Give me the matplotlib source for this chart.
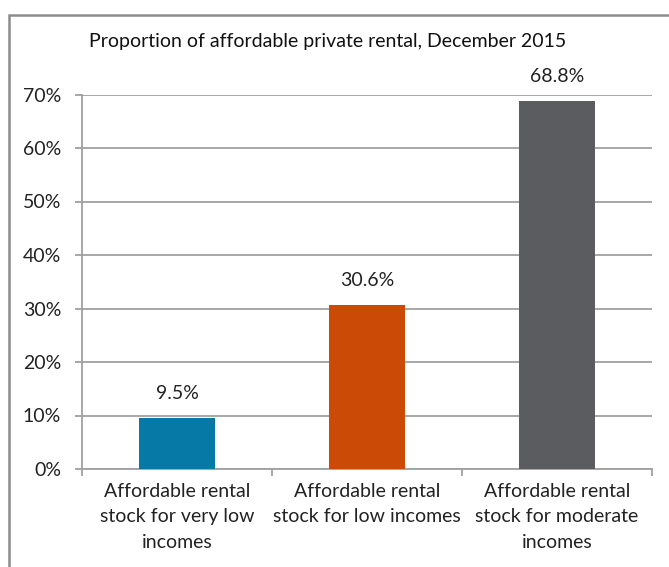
import matplotlib
matplotlib.use("Agg")
import matplotlib.pyplot as plt
from matplotlib.patches import Rectangle

categories = ["Affordable rental\nstock for very low\nincomes",
              "Affordable rental\nstock for low incomes",
              "Affordable rental\nstock for moderate\nincomes"]
values = [0.095, 0.306, 0.688]
value_labels = ["9.5%", "30.6%", "68.8%"]
yticks = [0.0, 0.1, 0.2, 0.3, 0.4, 0.5, 0.6, 0.7]
ytick_labels = ["0%", "10%", "20%", "30%", "40%", "50%", "60%", "70%"]
colors = ["#0779A6", "#CB4A06", "#5B5C60"]
title = "Proportion of affordable private rental, December 2015"

plt.rcParams['font.family'] = ['Lato', 'DejaVu Sans']
FS = 14
W, H = 669, 567
fig = plt.figure(figsize=(W / 100, H / 100), dpi=100)
ax = fig.add_axes([82 / W, 1 - 469 / H, (652 - 82) / W, (469 - 94.5) / H])

x = list(range(len(categories)))
ax.bar(x, values, width=0.4, color=colors, zorder=3)
for xi, v, lab in zip(x, values, value_labels):
    ax.annotate(lab, (xi, v), xytext=(0, 17.5), textcoords="offset points",
                ha="center", va="center", fontsize=FS, color="#222222")

ax.set_xlim(-0.5, 2.5)
ax.set_ylim(0, 0.7)
ax.set_yticks(yticks)
ax.set_yticklabels(ytick_labels, fontsize=FS, color="#222222")
ax.yaxis.grid(True, color="#A0A0A0", linewidth=1.3, zorder=0)
ax.set_axisbelow(True)

ax.set_xticks(x)
ax.set_xticklabels(categories, fontsize=FS, color="#222222", linespacing=1.6)
ax.tick_params(axis="x", length=0, pad=10)
ax.set_xticks([-0.5, 0.5, 1.5, 2.5], minor=True)
ax.tick_params(axis="x", which="minor", length=5, color="#A0A0A0", width=1.3)
ax.tick_params(axis="y", length=5, color="#A0A0A0", width=1.3, pad=10)

for s in ["top", "right"]:
    ax.spines[s].set_visible(False)
for s in ["left", "bottom"]:
    ax.spines[s].set_color("#A0A0A0")
    ax.spines[s].set_linewidth(1.3)

fig.text(328 / W, 1 - 42 / H, title, ha="center", va="center", fontsize=FS, color="#111111")

fig.patches.append(Rectangle((8.5 / W, -0.1), 1.0, 1 - 15 / H + 0.1,
                             transform=fig.transFigure, fill=False,
                             edgecolor="#8C8C8C", linewidth=1.8))

fig.savefig("out.png", dpi=100)
